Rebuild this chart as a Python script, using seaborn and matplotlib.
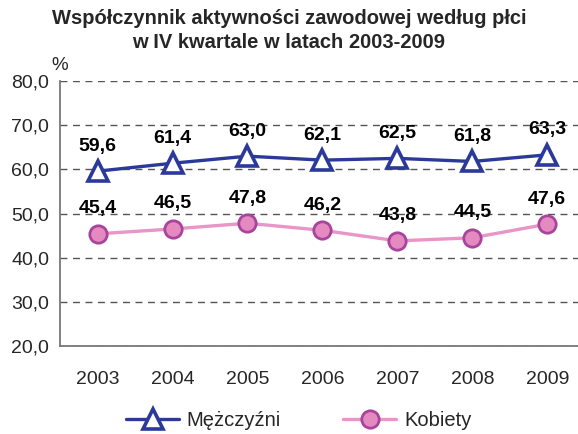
import matplotlib
matplotlib.use("Agg")
import matplotlib.pyplot as plt
import matplotlib.ticker as tkr
import seaborn as sns
import pandas as pd

lata = [2003, 2004, 2005, 2006, 2007, 2008, 2009]
mezczyzni = [59.6, 61.4, 63.0, 62.1, 62.5, 61.8, 63.3]
kobiety = [45.4, 46.5, 47.8, 46.2, 43.8, 44.5, 47.6]
y_ticks = [20, 30, 40, 50, 60, 70, 80]

df = pd.DataFrame({"rok": lata, "Mężczyźni": mezczyzni, "Kobiety": kobiety})

sns.set_style("white")
plt.rcParams['font.family'] = ['Liberation Sans', 'DejaVu Sans']

fig = plt.figure(figsize=(5.78, 4.34), dpi=100)
ax = fig.add_axes([0.104, 0.203, 0.896, 0.61])

blue = "#2B3A98"
pink_line = "#E896C8"
pink_face = "#E48AC0"
pink_edge = "#A8449C"

sns.lineplot(data=df, x="rok", y="Mężczyźni", ax=ax, color=blue, lw=2.4,
             marker="^", markersize=14, markerfacecolor="white",
             markeredgecolor=blue, markeredgewidth=2.6, label="Mężczyźni", legend=False)
sns.lineplot(data=df, x="rok", y="Kobiety", ax=ax, color=pink_line, lw=2.4,
             marker="o", markersize=12.5, markerfacecolor=pink_face,
             markeredgecolor=pink_edge, markeredgewidth=2.0, label="Kobiety", legend=False)

# value labels
for x, v in zip(lata, mezczyzni):
    ax.annotate(f"{v:.1f}".replace(".", ","), (x, v), xytext=(0, 18), textcoords="offset points",
                ha="center", va="center", fontsize=14, fontweight="bold", color="black")
for x, v in zip(lata, kobiety):
    ax.annotate(f"{v:.1f}".replace(".", ","), (x, v), xytext=(0, 18), textcoords="offset points",
                ha="center", va="center", fontsize=14, fontweight="bold", color="black")

ax.set_ylim(20, 80)
ax.set_xlim(2002.5, 2009.41)
ax.set_yticks(y_ticks)
ax.yaxis.set_major_formatter(tkr.FuncFormatter(lambda v, p: f"{v:.1f}".replace(".", ",")))
ax.yaxis.grid(True, linestyle=(0, (5, 4)), color="#555555", lw=1.0)
ax.set_axisbelow(True)

# tick marks between categories, labels at centres
ax.set_xticks([y + 0.5 for y in lata[:-1]] + [2002.5])
ax.set_xticklabels([])
ax.set_xticks(lata, minor=True)
ax.set_xticklabels([str(y) for y in lata], minor=True)
ax.tick_params(axis="x", which="major", length=5, width=1, color="#777777", direction="out")
ax.tick_params(axis="x", which="minor", length=0, labelsize=14, pad=18)
ax.tick_params(axis="y", length=5, width=1, color="#777777", direction="out", labelsize=14, pad=3)

for s in ["top", "right"]:
    ax.spines[s].set_visible(False)
for s in ["left", "bottom"]:
    ax.spines[s].set_color("#777777")
    ax.spines[s].set_linewidth(1.3)
ax.set_xlabel("")
ax.set_ylabel("")

fig.text(0.104, 0.85, "%", fontsize=13.5, ha="center", va="center")
fig.text(0.5, 0.958, "Współczynnik aktywności zawodowej według płci", fontsize=14.5,
         fontweight="bold", ha="center", va="center")
fig.text(0.5, 0.902, "w IV kwartale w latach 2003-2009", fontsize=14.5,
         fontweight="bold", ha="center", va="center")

handles, labels = ax.get_legend_handles_labels()
fig.legend(handles, labels, loc="center", bbox_to_anchor=(0.517, 0.03), ncol=2, frameon=False,
           fontsize=14.5, handlelength=2.6, columnspacing=3.1, handletextpad=0.4)

fig.savefig("out.png", dpi=100)
